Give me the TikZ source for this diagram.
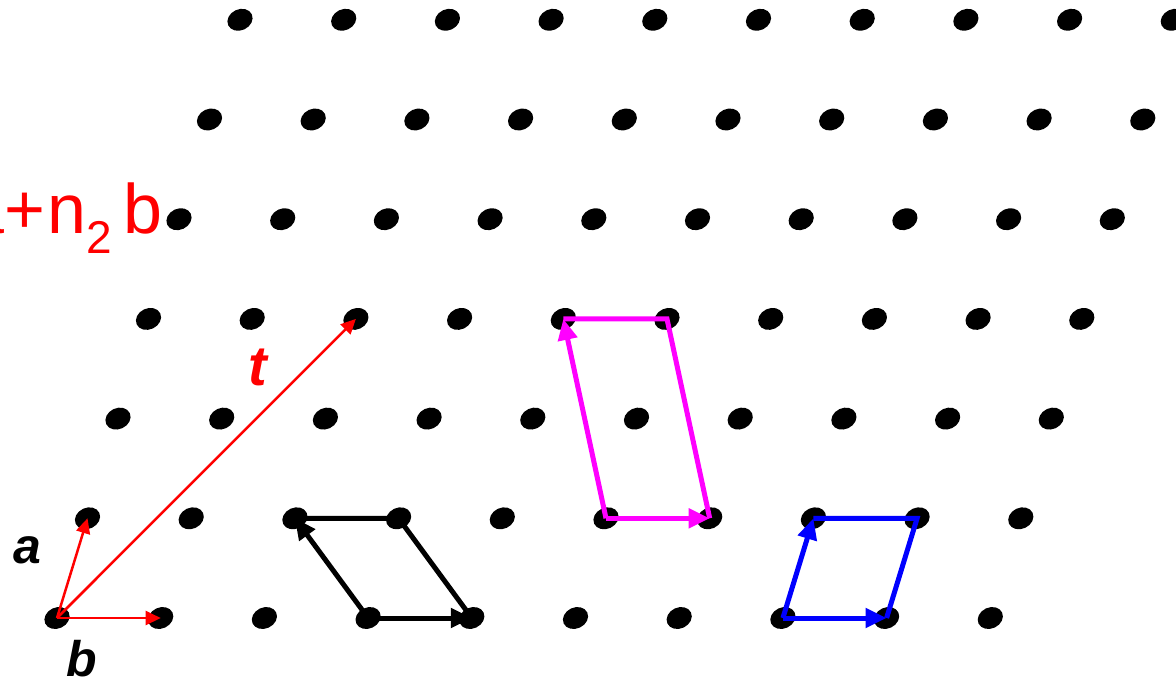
\documentclass[tikz,border=0pt]{standalone}
\usepackage{fontspec}
\setmainfont{Liberation Sans}
\usepackage{xcolor}
\usetikzlibrary{shapes.geometric, arrows.meta}
\definecolor{cellpink}{RGB}{255,0,255}
\definecolor{cellblue}{RGB}{0,0,255}
\definecolor{vecred}{RGB}{255,0,0}

\begin{document}
\begin{tikzpicture}[x=1pt, y=-1pt,
    dot/.style={ellipse, fill=black, inner sep=0pt, minimum width=26pt, minimum height=21pt, rotate=25},
    basis/.style={vecred, line width=2.5pt, -{Triangle[length=15pt, width=14pt]}},
    cell/.style={line width=5pt, -{Triangle[length=21pt, width=19pt]}},
    lbl/.style={anchor=base, inner sep=0pt, font=\fontsize{50}{50}\selectfont\bfseries\itshape}]
   \useasboundingbox (0,0) rectangle (1176,683);
   \clip (0,0) rectangle (1176,683);

   % lattice points
   \foreach \j in {0,...,6}
     \foreach \i in {0,...,9}
       \node[dot] (d\i\j) at ({57+103.7*\i+30.5*\j}, {618-99.7*\j}) {};

   \node[vecred, anchor=base east, inner sep=0pt, font=\fontsize{70}{70}\selectfont] (eq) at (163,233)
       {a+\kern2pt n{\fontsize{46}{46}\selectfont\raisebox{-20pt}{2}}\kern12pt b};

   % basis vectors and t
   \path[basis]
   (d00.center) edge (d01.center)
                edge (d10.center)
                edge (d23.center);
   \node[lbl] (la) at (27.5,563) {a};
   \node[lbl] (lb) at (82,676) {b};
   \node[lbl, vecred, font=\fontsize{56}{56}\selectfont\bfseries\itshape] (lt) at (258,385) {t};

   % unit cells
   \draw[line width=5pt] (d21.center) -- (d31.center) -- (d40.center);
   \path[cell]
   (d30.center) edge (d21.center)
                edge (d40.center);

   \draw[cellpink, line width=5pt] (d43.center) -- (d53.center) -- (d61.center);
   \path[cell, cellpink]
   (d51.center) edge (d43.center)
                edge (d61.center);

   \draw[cellblue, line width=5pt] (d71.center) -- (d81.center) -- (d80.center);
   \path[cell, cellblue]
   (d70.center) edge (d71.center)
                edge (d80.center);
\end{tikzpicture}
\end{document}
